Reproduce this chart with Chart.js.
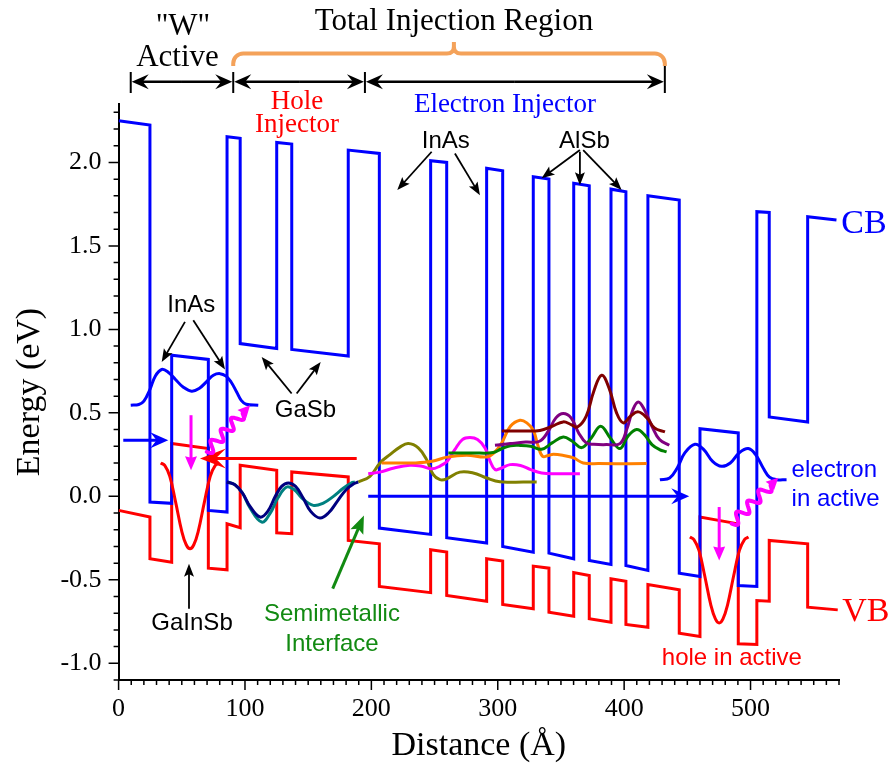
<!DOCTYPE html>
<html>
<head>
<meta charset="utf-8">
<script src="https://cdn.jsdelivr.net/npm/chart.js@4"></script>
<style>
  html, body { margin: 0; padding: 0; background: #fff; }
</style>
</head>
<body>
<canvas id="bandChart" width="893" height="766"></canvas>
<script>
// tick labels
const xTickValues = [0, 100, 200, 300, 400, 500];
const yTickValues = [-1.0, -0.5, 0.0, 0.5, 1.0, 1.5, 2.0];

// band edges [distance (A), energy (eV)]
const cbBand = [[0,2.25],[24.8,2.224],[24.8,-0.034],[42.0,-0.042],[42.0,0.845],[71.0,0.82],[71.0,-0.084],[85.8,-0.094],[85.8,2.154],[96.2,2.145],[96.2,0.915],[125.1,0.885],[125.1,2.12],[137.0,2.11],[137.0,0.88],[181.7,0.84],[181.7,2.074],[206.3,2.054],[206.3,-0.19],[246.9,-0.228],[246.9,2.01],[259.6,2.0],[259.6,-0.248],[291.2,-0.28],[291.2,1.965],[303.9,1.95],[303.9,-0.30],[328.1,-0.334],[328.1,1.914],[340.5,1.90],[340.5,-0.34],[360.1,-0.374],[360.1,1.875],[372.4,1.86],[372.4,-0.384],[389.6,-0.408],[389.6,1.84],[401.4,1.825],[401.4,-0.414],[418.8,-0.444],[418.8,1.80],[443.6,1.775],[443.6,-0.46],[460,-0.48],[460,0.405],[490.3,0.38],[490.3,-0.534],[505,-0.54],[505,1.705],[514.8,1.70],[514.8,0.475],[545.2,0.445],[545.2,1.675],[568,1.655]];
const vbBand = [[0,-0.084],[24.8,-0.124],[24.8,-0.374],[42.0,-0.394],[42.0,0.316],[71.0,0.286],[71.0,-0.43],[85.8,-0.44],[85.8,-0.164],[96.2,-0.188],[96.2,0.186],[125.1,0.156],[125.1,-0.218],[137.0,-0.224],[137.0,0.146],[181.7,0.116],[181.7,-0.264],[206.3,-0.284],[206.3,-0.54],[246.9,-0.577],[246.9,-0.32],[259.6,-0.334],[259.6,-0.594],[291.2,-0.628],[291.2,-0.374],[303.9,-0.388],[303.9,-0.647],[328.1,-0.673],[328.1,-0.418],[340.5,-0.43],[340.5,-0.694],[360.1,-0.718],[360.1,-0.457],[372.4,-0.474],[372.4,-0.733],[389.6,-0.754],[389.6,-0.494],[401.4,-0.508],[401.4,-0.767],[418.8,-0.784],[418.8,-0.528],[443.6,-0.56],[443.6,-0.82],[460,-0.84],[460,-0.124],[490.3,-0.165],[490.3,-0.883],[505,-0.887],[505,-0.624],[514.8,-0.628],[514.8,-0.264],[545.2,-0.284],[545.2,-0.664],[569,-0.68]];

// wavefunctions
const wfElecLeft = [[9.6,0.546],[16,0.55],[20,0.57],[24.8,0.64],[29,0.72],[34.1,0.76],[39,0.745],[45,0.7],[51,0.655],[57.8,0.63],[64,0.648],[70,0.69],[75,0.725],[80.2,0.735],[85,0.72],[89,0.685],[93.4,0.625],[97,0.575],[101,0.552],[110.5,0.546]];
const wfHoleLeft = [[33.3,0.2],[36.5,0.185],[40.5,0.12],[45,-0.03],[50,-0.21],[53.5,-0.29],[56.5,-0.314],[59.5,-0.29],[63,-0.21],[68,-0.03],[72.5,0.12],[76.5,0.185],[79.7,0.2]];
const wfInjNavy = [[85.5,0.086],[92,0.07],[98,0.02],[104,-0.06],[111.9,-0.124],[118,-0.09],[124,0.0],[129,0.06],[134.3,0.08],[140,0.06],[146,-0.01],[152,-0.09],[159.3,-0.13],[166,-0.1],[173,-0.03],[180,0.04],[186,0.075],[189.6,0.086]];
const wfInjTeal = [[86,0.086],[92,0.07],[98,0.02],[104,-0.07],[113.2,-0.154],[120,-0.1],[126,-0.01],[133,0.056],[139,0.04],[145,-0.01],[154,-0.054],[162,-0.04],[170,0.0],[178,0.05],[184,0.08],[187,0.086]];
const wfOlive = [[189.6,0.086],[198.9,0.12],[206.8,0.2],[214.7,0.25],[222.6,0.295],[229.2,0.316],[237.1,0.29],[243.7,0.22],[249,0.13],[254.3,0.1],[259.6,0.105],[270,0.145],[280.6,0.14],[291.2,0.11],[301.7,0.088],[330.8,0.086]];
const wfMagenta = [[197.5,0.136],[206.8,0.145],[218,0.17],[230.5,0.186],[240,0.18],[247.7,0.165],[254,0.18],[260,0.21],[266,0.28],[272,0.34],[278,0.352],[284,0.34],[289.9,0.29],[294,0.21],[298,0.16],[303,0.17],[309.7,0.19],[318,0.185],[326,0.16],[334.7,0.14],[345,0.135],[365,0.136]];
const wfOrange = [[208.1,0.2],[220,0.2],[235,0.2],[248,0.21],[260,0.235],[275.4,0.246],[291.2,0.236],[297,0.26],[303.1,0.32],[310,0.42],[317.6,0.456],[323,0.44],[328.1,0.396],[332,0.3],[335.5,0.24],[340,0.245],[344,0.252],[352,0.245],[360,0.23],[367.6,0.2],[380,0.196],[417.8,0.196]];
const wfGreen = [[260.9,0.26],[280,0.26],[296.4,0.262],[303,0.285],[310,0.303],[318,0.305],[326,0.3],[334.7,0.282],[343,0.32],[351.8,0.356],[359,0.33],[366.4,0.292],[374,0.35],[381.4,0.42],[389,0.35],[396.7,0.286],[403,0.36],[409.9,0.4],[416,0.37],[422,0.31],[428,0.28],[433.6,0.266]];
const wfPurple = [[297.8,0.306],[310,0.316],[322,0.325],[333,0.33],[340,0.39],[346,0.47],[351.8,0.496],[358,0.47],[364,0.38],[370,0.32],[376,0.312],[386,0.31],[396.7,0.316],[402,0.4],[407,0.52],[411.2,0.565],[416,0.52],[422,0.42],[428,0.34],[435.7,0.306]];
const wfMaroon = [[303.1,0.392],[320,0.392],[333.4,0.395],[343,0.42],[351.8,0.446],[358,0.43],[363,0.415],[370,0.48],[376,0.63],[382.2,0.725],[388,0.65],[394,0.5],[399.3,0.44],[405,0.48],[411.2,0.506],[418,0.47],[424,0.41],[432.3,0.386]];
const wfElecRight = [[428.3,0.1],[436,0.11],[442,0.17],[448,0.26],[456,0.312],[463,0.28],[470,0.21],[477.1,0.18],[484,0.2],[491,0.26],[498.2,0.286],[504,0.25],[510,0.17],[515,0.115],[520.6,0.1],[528.5,0.1]];
const wfHoleRight = [[452,-0.244],[455.2,-0.259],[459.2,-0.324],[463.7,-0.474],[468.7,-0.654],[472.2,-0.734],[475.2,-0.758],[478.2,-0.734],[481.7,-0.654],[486.7,-0.474],[491.2,-0.324],[495.2,-0.259],[498.4,-0.244]];

// transition / transport arrows [x1, y1, x2, y2]
const blueArrows = [[3.7,0.336,39.3,0.336],[197.5,0.0,451.5,0.0]];
const redArrows = [[188.4,0.226,64.4,0.226]];
const magentaDrops = [[57.3,0.486,57.3,0.156],[475.2,-0.064,475.2,-0.384]];
const photonArrows = [[69.7,0.266,104,0.546],[485,-0.164,522,0.112]];

// labelling arrows [x1, y1, x2, y2, colour]
const noteArrows = [
  [52.5,1.045,34.1,0.805,'#000'],[59.1,1.055,84.2,0.76,'#000'],
  [136.9,0.616,113.2,0.835,'#000'],[140.9,0.616,159.9,0.805,'#000'],
  [247.7,2.064,220.5,1.835,'#000'],[266.1,2.054,285.9,1.804,'#000'],
  [365,2.074,334.7,1.905,'#000'],[365,2.064,365,1.864,'#000'],[367.6,2.074,398,1.835,'#000'],
  [55.7,-0.673,55.7,-0.403,'#000'],
  [169.4,-0.553,194.1,-0.114,'#128a12']
];
// text labels [text, x, y, font, colour, align]
const SANS = '24px "Liberation Sans"';
const noteLabels = [
  ['InAs', 57.5, 1.106, SANS, '#000', 'center'],
  ['GaSb', 147.9, 0.474, SANS, '#000', 'center'],
  ['InAs', 258.9, 2.086, SANS, '#000', 'center'],
  ['AlSb', 368.6, 2.086, SANS, '#000', 'center'],
  ['GaInSb', 58.1, -0.803, SANS, '#000', 'center'],
  ['Semimetallic', 168.8, -0.749, SANS, '#128a12', 'center'],
  ['Interface', 168.8, -0.929, SANS, '#128a12', 'center'],
  ['hole in active', 485.2, -1.013, SANS, '#ff0000', 'center'],
  ['electron', 532.5, 0.116, SANS, '#0000ff', 'left'],
  ['in active', 532.5, -0.06, SANS, '#0000ff', 'left'],
  ['CB', 589.7, 1.577, '34px "Liberation Serif"', '#0000ff', 'center'],
  ['VB', 591.3, -0.748, '34px "Liberation Serif"', '#ff0000', 'center'],
  ['Hole', 141.2, 2.32, '27px "Liberation Serif"', '#ff0000', 'center'],
  ['Injector', 141.2, 2.18, '27px "Liberation Serif"', '#ff0000', 'center'],
  ['Electron Injector', 305.7, 2.302, '27px "Liberation Serif"', '#0000ff', 'center']
];
// header regions: boundaries along x
const regionEdges = [9.6, 90.7, 194.9, 432.2];

function line(ctx, x1, y1, x2, y2) {
  ctx.beginPath(); ctx.moveTo(x1, y1); ctx.lineTo(x2, y2); ctx.stroke();
}
function head(ctx, x1, y1, x2, y2, len, half, notch, color) {
  const a = Math.atan2(y2 - y1, x2 - x1);
  ctx.save();
  ctx.translate(x2, y2); ctx.rotate(a);
  ctx.beginPath();
  ctx.moveTo(0, 0); ctx.lineTo(-len, -half); ctx.lineTo(-len * (1 - notch), 0); ctx.lineTo(-len, half);
  ctx.closePath();
  ctx.fillStyle = color; ctx.fill();
  ctx.restore();
}
function arrow(ctx, x1, y1, x2, y2, color, width, len, half, notch) {
  const a = Math.atan2(y2 - y1, x2 - x1);
  const back = len * (1 - notch) * 0.9;
  ctx.strokeStyle = color; ctx.lineWidth = width;
  line(ctx, x1, y1, x2 - Math.cos(a) * back, y2 - Math.sin(a) * back);
  head(ctx, x1, y1, x2, y2, len, half, notch, color);
}
function wavy(ctx, x1, y1, x2, y2, color) {
  const dx = x2 - x1, dy = y2 - y1, L = Math.hypot(dx, dy);
  const ux = dx / L, uy = dy / L, nx = -uy, ny = ux;
  const hl = 11, Lw = L - hl;
  ctx.strokeStyle = color; ctx.lineWidth = 4; ctx.lineCap = 'round';
  ctx.beginPath();
  for (let i = 0; i <= 80; i++) {
    const t = Lw * i / 80;
    const off = 5 * Math.sin(t / Lw * 3.5 * 2 * Math.PI);
    const px = x1 + ux * t + nx * off, py = y1 + uy * t + ny * off;
    if (i === 0) ctx.moveTo(px, py); else ctx.lineTo(px, py);
  }
  ctx.stroke();
  ctx.lineCap = 'butt';
  head(ctx, x1, y1, x2, y2, 12, 6, 0.1, color);
}

const decor = {
  id: 'decor',
  afterDraw(chart) {
    const { ctx, chartArea: ca, scales: { x, y } } = chart;
    const X = v => x.getPixelForValue(v), Y = v => y.getPixelForValue(v);
    ctx.save();

    // outward major/minor ticks
    ctx.strokeStyle = '#000'; ctx.lineWidth = 1.5;
    ctx.beginPath();
    for (let k = 0; k <= 57; k++) {
      const px = X(k * 10), len = k % 10 === 0 ? 10 : 5;
      ctx.moveTo(px, ca.bottom); ctx.lineTo(px, ca.bottom + len);
    }
    for (let k = -11; k <= 23; k++) {
      const py = Y(k / 10), len = k % 5 === 0 ? 10 : 5;
      ctx.moveTo(ca.left, py); ctx.lineTo(ca.left - len, py);
    }
    ctx.stroke();

    // transport arrows
    blueArrows.forEach(a => arrow(ctx, X(a[0]), Y(a[1]), X(a[2]), Y(a[3]), '#0000ff', 3, 18, 8, 0.35));
    redArrows.forEach(a => arrow(ctx, X(a[0]), Y(a[1]), X(a[2]), Y(a[3]), '#ff0000', 3, 26, 10, 0.4));
    magentaDrops.forEach(a => arrow(ctx, X(a[0]), Y(a[1]), X(a[2]), Y(a[3]), '#ff00ff', 3, 14, 6, 0.1));
    photonArrows.forEach(a => wavy(ctx, X(a[0]), Y(a[1]), X(a[2]), Y(a[3]), '#ff00ff'));

    // label arrows
    noteArrows.forEach(a => arrow(ctx, X(a[0]), Y(a[1]), X(a[2]), Y(a[3]), a[4], a[4] === '#000' ? 1.8 : 3, a[4] === '#000' ? 13 : 18, a[4] === '#000' ? 5 : 7, 0.2));

    // text
    ctx.textBaseline = 'alphabetic';
    noteLabels.forEach(l => {
      ctx.font = l[3]; ctx.fillStyle = l[4]; ctx.textAlign = l[5];
      ctx.fillText(l[0], X(l[1]), Y(l[2]));
    });

    // header: region arrows
    const yArr = 81.7;
    const edges = regionEdges.map(X);
    ctx.strokeStyle = '#000'; ctx.lineWidth = 2;
    edges.forEach((px, i) => line(ctx, px, i === edges.length - 1 ? 64 : 72, px, 93));
    for (let i = 0; i < edges.length - 1; i++) {
      const a = edges[i], b = edges[i + 1], m = (a + b) / 2;
      arrow(ctx, m, yArr, a + 1, yArr, '#000', 2.5, 17, 7.5, 0.35);
      arrow(ctx, m, yArr, b - 1, yArr, '#000', 2.5, 17, 7.5, 0.35);
    }

    // header: orange bracket
    const bx0 = edges[1], bx1 = edges[3], bxc = X(265.3), by = 53.5;
    ctx.strokeStyle = '#f4a25a'; ctx.lineWidth = 4; ctx.lineJoin = 'round';
    ctx.beginPath();
    ctx.moveTo(bx0, 66);
    ctx.arcTo(bx0, by, bx0 + 12, by, 10);
    ctx.lineTo(bxc - 7, by);
    ctx.quadraticCurveTo(bxc, by, bxc, by - 7);
    ctx.lineTo(bxc, 42);
    ctx.moveTo(bxc, by - 7);
    ctx.quadraticCurveTo(bxc, by, bxc + 7, by);
    ctx.lineTo(bx1 - 12, by);
    ctx.arcTo(bx1, by, bx1, 66, 10);
    ctx.lineTo(bx1, 66);
    ctx.stroke();

    // header text
    ctx.fillStyle = '#000'; ctx.textAlign = 'center';
    ctx.font = '31px "Liberation Serif"';
    ctx.fillText('"W"', X(50.9), 35);
    ctx.fillText('Active', X(46.6), 66);
    ctx.fillText('Total Injection Region', X(265.3), 30);

    ctx.restore();
  }
};

function band(points, color, tension) {
  return {
    data: points.map(p => ({ x: p[0], y: p[1] })),
    borderColor: color,
    borderWidth: 3,
    pointRadius: 0,
    fill: false,
    tension: tension
  };
}

const datasets = [
  band(wfElecLeft, '#0000ff', 0.4),
  band(wfHoleLeft, '#ff0000', 0.4),
  band(wfInjNavy, '#000080', 0.4),
  band(wfInjTeal, '#008080', 0.4),
  band(wfMaroon, '#800000', 0.4),
  band(wfPurple, '#800080', 0.4),
  band(wfGreen, '#008000', 0.4),
  band(wfOrange, '#ff8000', 0.4),
  band(wfMagenta, '#ff00ff', 0.4),
  band(wfOlive, '#808000', 0.4),
  band(wfElecRight, '#0000ff', 0.4),
  band(wfHoleRight, '#ff0000', 0.4),
  band(cbBand, '#0000ff', 0),
  band(vbBand, '#ff0000', 0)
];

const ctx = document.getElementById('bandChart').getContext('2d');
new Chart(ctx, {
  type: 'line',
  data: { datasets: datasets },
  options: {
    responsive: false,
    animation: false,
    devicePixelRatio: 1,
    layout: { padding: { top: 104, right: 54, bottom: 0, left: 0 } },
    plugins: { legend: { display: false }, tooltip: { enabled: false } },
    scales: {
      x: {
        type: 'linear', min: 0, max: 570,
        grid: { display: false, drawTicks: false },
        border: { display: true, color: '#000', width: 2 },
        afterBuildTicks: s => { s.ticks = xTickValues.map(v => ({ value: v })); },
        afterFit: s => { s.height = 86; },
        ticks: {
          autoSkip: false, maxRotation: 0, padding: 14, color: '#000',
          font: { family: 'Liberation Serif', size: 26 },
          callback: v => String(v)
        },
        title: {
          display: true, text: 'Distance (Å)', color: '#000',
          font: { family: 'Liberation Serif', size: 34 },
          padding: { top: 0, bottom: 0 }
        }
      },
      y: {
        type: 'linear', min: -1.1, max: 2.35,
        grid: { display: false, drawTicks: false },
        border: { display: true, color: '#000', width: 2 },
        afterBuildTicks: s => { s.ticks = yTickValues.map(v => ({ value: v })); },
        afterFit: s => { s.width = 118.6; },
        ticks: {
          autoSkip: false, padding: 17, color: '#000',
          font: { family: 'Liberation Serif', size: 26 },
          callback: v => Number(v).toFixed(1)
        },
        title: {
          display: true, text: 'Energy (eV)', color: '#000',
          font: { family: 'Liberation Serif', size: 34 },
          padding: { top: 10, bottom: 0 }
        }
      }
    }
  },
  plugins: [decor]
});
</script>
</body>
</html>
